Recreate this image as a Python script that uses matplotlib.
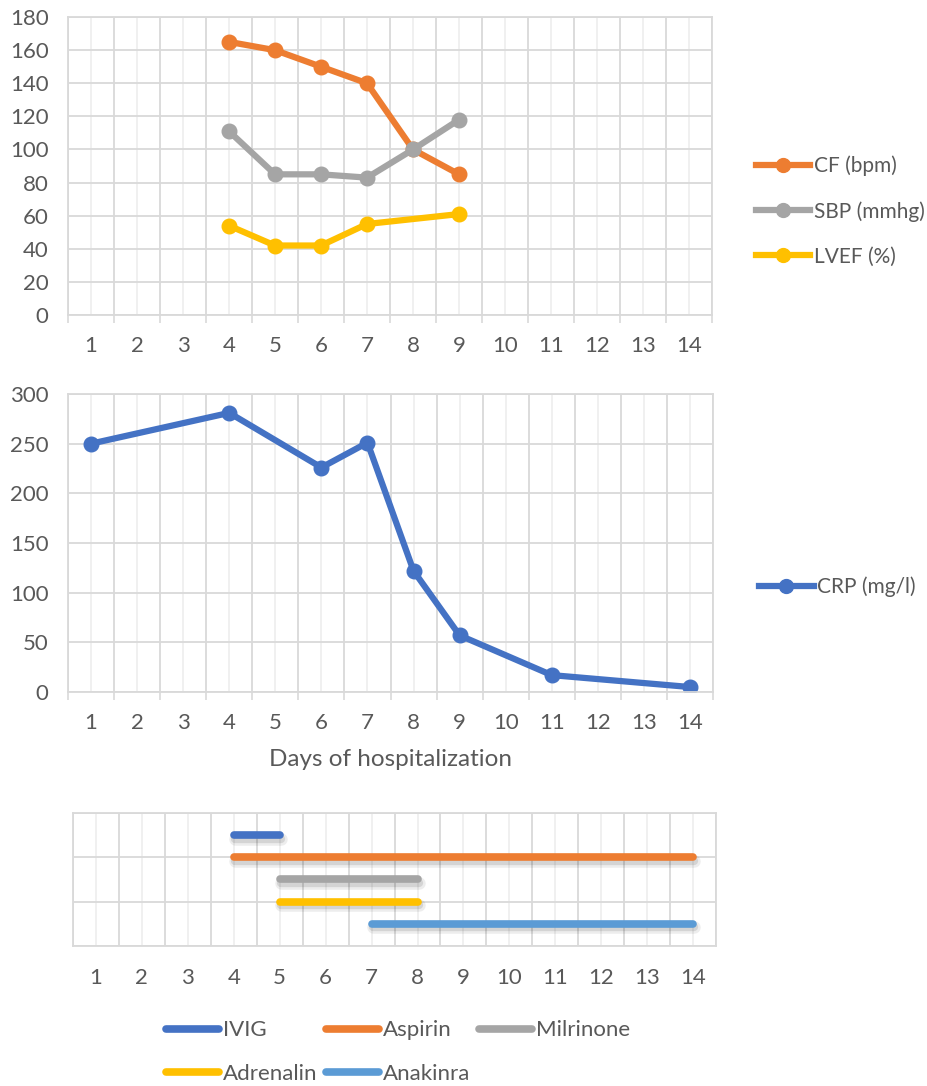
import matplotlib.pyplot as plt
import matplotlib.patheffects as pe
import numpy as np

plt.rcParams['font.family'] = ['Lato', 'DejaVu Sans']
plt.rcParams['font.size'] = 16

TXT = "#595959"
GRID = "#D9D9D9"
MINOR = "#EDEDED"

days = list(range(1, 15))

# vital signs
vital_days = [4, 5, 6, 7, 8, 9]
cf = [165, 160, 150, 140, 100, 85]
sbp = [111, 85, 85, 83, 100, 118]
lvef_days = [4, 5, 6, 7, 9]
lvef = [54, 42, 42, 55, 61]

# inflammation
crp_days = [1, 4, 6, 7, 8, 9, 11, 14]
crp = [250, 281, 226, 251, 122, 57, 17, 5]

# treatments
drugs = ["IVIG", "Aspirin", "Milrinone", "Adrenalin", "Anakinra"]
drug_start = [4, 4, 5, 5, 7]
drug_end = [5, 14, 8, 8, 14]
drug_row = [2.5, 2.0, 1.5, 1.0, 0.5]
drug_colors = ["#4472C4", "#ED7D31", "#A5A5A5", "#FFC000", "#5B9BD5"]


def day_axis(ax, tick_len, pad):
    ax.set_xlim(0.5, 14.5)
    ax.set_xticks(np.arange(0.5, 15, 1))
    ax.set_xticklabels([])
    ax.set_xticks(days, minor=True)
    ax.set_xticklabels([str(d) for d in days], minor=True)
    ax.tick_params(axis='x', which='major', length=tick_len, width=1.2, color=GRID)
    ax.tick_params(axis='x', which='minor', length=0, pad=pad, labelcolor=TXT)
    ax.tick_params(axis='y', length=0, pad=14, labelcolor=TXT)
    ax.grid(True, which='major', color=GRID, lw=1.3)
    ax.grid(True, which='minor', axis='x', color=MINOR, lw=1.2)
    ax.set_axisbelow(True)
    for s in ax.spines.values():
        s.set_color(GRID)
        s.set_linewidth(1.3)


fig = plt.figure(figsize=(9.28, 10.86), dpi=100)

# top panel
ax1 = fig.add_axes([0.0733, 0.7099, 0.694, 0.2744])
ax1.plot(vital_days, cf, 'o-', color="#ED7D31", lw=4.5, ms=10.5, label="CF (bpm)")
ax1.plot(vital_days, sbp, 'o-', color="#A5A5A5", lw=4.5, ms=10.5, label="SBP (mmhg)")
ax1.plot(lvef_days, lvef, 'o-', color="#FFC000", lw=4.5, ms=10.5, label="LVEF (%)")
ax1.set_ylim(0, 180)
ax1.set_yticks(range(0, 181, 20))
day_axis(ax1, 6, 15)
fig.legend(handles=ax1.get_lines(), loc='center left', bbox_to_anchor=(748 / 928, 1 - 211 / 1086),
           frameon=False, handlelength=2.6, handletextpad=0.15, labelspacing=1.2,
           labelcolor=TXT, borderaxespad=0, markerscale=0.95, fontsize=15)

# middle panel
ax2 = fig.add_axes([0.0733, 0.3628, 0.695, 0.2744])
ax2.plot(crp_days, crp, 'o-', color="#4472C4", lw=4.5, ms=10.5, label="CRP (mg/l)")
ax2.set_ylim(0, 300)
ax2.set_yticks(range(0, 301, 50))
day_axis(ax2, 6, 15)
ax2.set_xlabel("Days of hospitalization", color=TXT, fontsize=17.5, labelpad=12)
fig.legend(handles=ax2.get_lines(), loc='center left', bbox_to_anchor=(751 / 928, 1 - 587 / 1086),
           frameon=False, handlelength=2.6, handletextpad=0.15, labelcolor=TXT,
           borderaxespad=0, markerscale=0.95, fontsize=15)

# bottom panel
ax3 = fig.add_axes([0.0787, 0.1289, 0.6929, 0.1225])
shadow = [pe.SimpleLineShadow(offset=(1, -2.5), shadow_color='k', alpha=0.07, linewidth=9),
          pe.SimpleLineShadow(offset=(1, -2.5), shadow_color='k', alpha=0.1, linewidth=6),
          pe.Normal()]
handles = []
for name, s, e, r, c in zip(drugs, drug_start, drug_end, drug_row, drug_colors):
    ln, = ax3.plot([s, e], [r, r], color=c, lw=5.5, solid_capstyle='round', label=name,
                   path_effects=shadow)
    handles.append(ln)
ax3.set_ylim(0, 3)
ax3.set_yticks([0, 1, 2, 3])
ax3.set_yticklabels([])
day_axis(ax3, 0, 16)

order = [0, 3, 1, 4, 2]
leg = fig.legend(handles=[handles[i] for i in order], labels=[drugs[i] for i in order],
                 loc='center', bbox_to_anchor=(398 / 928, 1 - 1052 / 1086), ncol=3,
                 frameon=False, handlelength=2.4, handletextpad=0.15, columnspacing=0.4,
                 labelspacing=1.05, labelcolor=TXT, borderaxespad=0)
for h in leg.legend_handles:
    h.set_path_effects([])
    h.set_linewidth(5.5)
    h.set_solid_capstyle('round')

plt.savefig("out.png", dpi=100)
